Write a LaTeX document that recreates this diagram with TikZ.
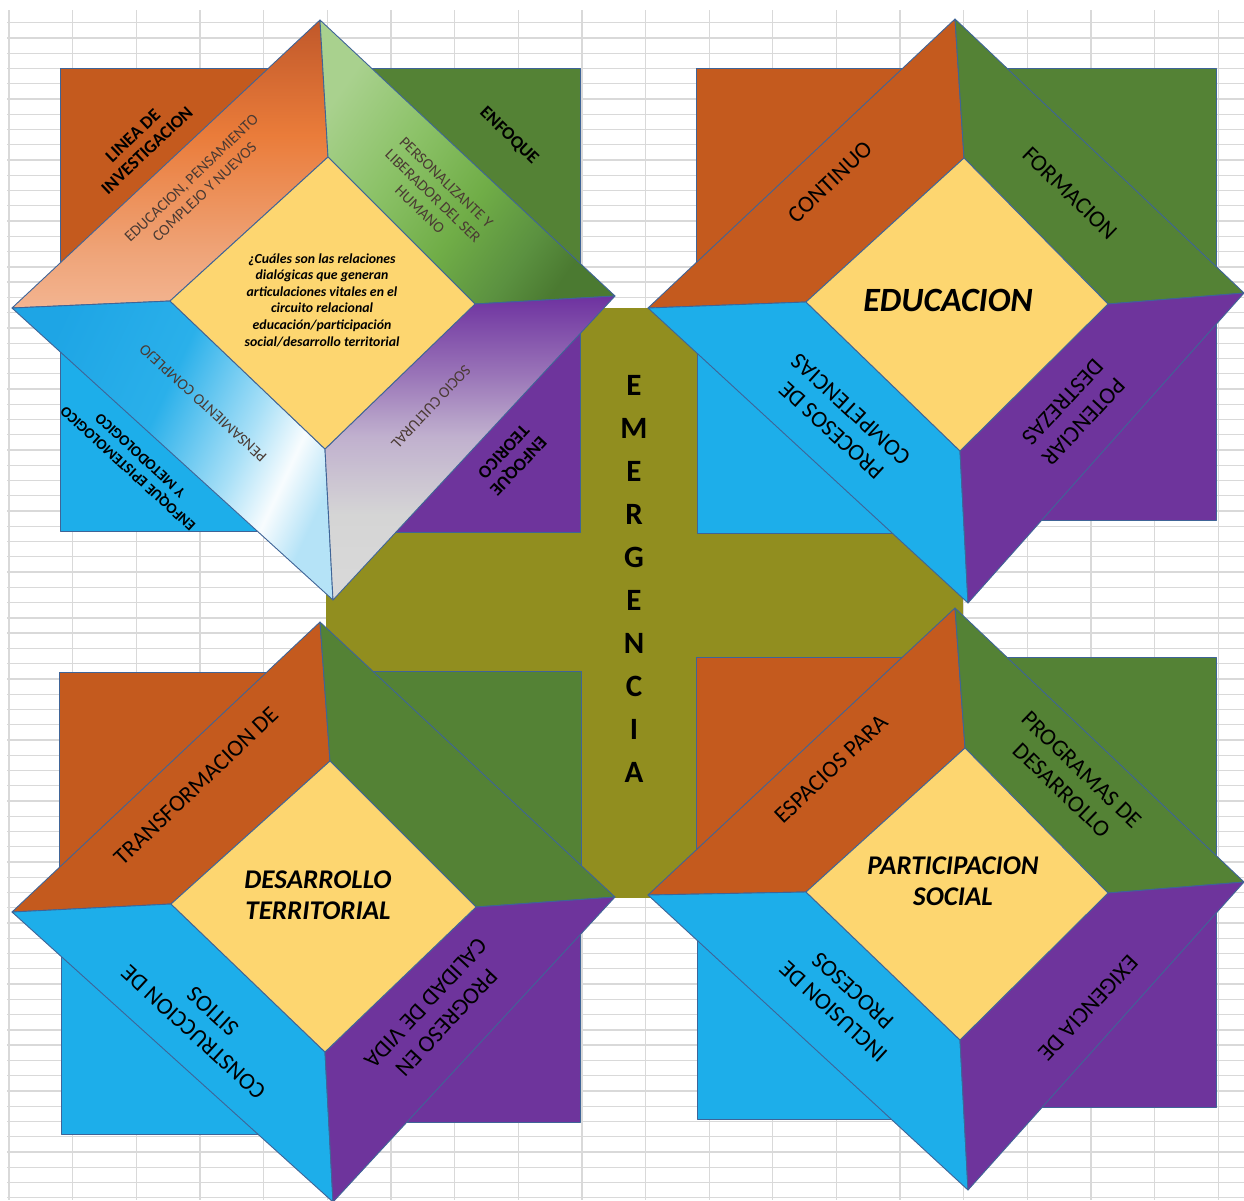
\documentclass[tikz,border=0pt]{standalone}
\usepackage{fontspec}
\setmainfont{Carlito}
\definecolor{gridc}{HTML}{D9D9D9}
\definecolor{orC}{HTML}{C45A1E}
\definecolor{grC}{HTML}{548235}
\definecolor{blC}{HTML}{1DAEEA}
\definecolor{puC}{HTML}{6E349C}
\definecolor{yeC}{HTML}{FDD670}
\definecolor{olC}{HTML}{918E1F}
\definecolor{edgeC}{HTML}{3F6497}
\definecolor{txD}{HTML}{4A3A33}
% gradient stops
\definecolor{orA}{HTML}{F3B490}\definecolor{orB}{HTML}{EFA57A}\definecolor{orCc}{HTML}{EA7C3A}\definecolor{orD}{HTML}{C0582A}
\definecolor{grA}{HTML}{A9D18E}\definecolor{grB}{HTML}{8CC268}\definecolor{grCc}{HTML}{70AD47}\definecolor{grD}{HTML}{5B9140}\definecolor{grE}{HTML}{4B7A31}
\definecolor{blA}{HTML}{1EA5E5}\definecolor{blB}{HTML}{2AB0EA}\definecolor{blCc}{HTML}{A9E0F7}\definecolor{blD}{HTML}{F8FCFE}\definecolor{blE}{HTML}{B5E3F7}
\definecolor{puA}{HTML}{6E32A0}\definecolor{puB}{HTML}{9A75B8}\definecolor{puCc}{HTML}{C0B0CE}\definecolor{puD}{HTML}{D5D5D5}\definecolor{puE}{HTML}{D9D9D9}
\pgfdeclareverticalshading{orflap}{100bp}{color(0bp)=(orA); color(25bp)=(orA); color(34bp)=(orB); color(55bp)=(orCc); color(75bp)=(orD); color(100bp)=(orD)}
\pgfdeclarehorizontalshading{grflap}{100bp}{color(0bp)=(grA); color(25bp)=(grA); color(40bp)=(grB); color(55bp)=(grCc); color(67bp)=(grD); color(75bp)=(grE); color(100bp)=(grE)}
\pgfdeclarehorizontalshading{blflap}{100bp}{color(0bp)=(blA); color(25bp)=(blA); color(45bp)=(blB); color(60bp)=(blCc); color(68bp)=(blD); color(75bp)=(blE); color(100bp)=(blE)}
\pgfdeclareverticalshading{puflap}{100bp}{color(0bp)=(puE); color(25bp)=(puE); color(39bp)=(puD); color(52bp)=(puCc); color(62bp)=(puB); color(75bp)=(puA); color(100bp)=(puA)}
\newcommand{\flaps}[5]{%
  \path[flap,#2] (#1OL) -- (#1OT) -- (#1IT) -- (#1IL) -- cycle;
  \path[flap,#3] (#1OT) -- (#1OR) -- (#1IR) -- (#1IT) -- cycle;
  \path[flap,#4] (#1OL) -- (#1IL) -- (#1IB) -- (#1OB) -- cycle;
  \path[flap,#5] (#1IR) -- (#1OR) -- (#1OB) -- (#1IB) -- cycle;
  \path[flap,fill=yeC] (#1IT) -- (#1IR) -- (#1IB) -- (#1IL) -- cycle;}
\newcommand{\rects}[6]{% prefix, center, orange corner, green corner, blue corner, purple corner
  \path[flap,fill=orC] #3 rectangle #2;
  \path[flap,fill=grC] #4 rectangle #2;
  \path[flap,fill=blC] #5 rectangle #2;
  \path[flap,fill=puC] #6 rectangle #2;}
\begin{document}
\begin{tikzpicture}[x=1pt,y=-1pt,
  grid/.style={draw=gridc,line width=1.3pt},
  flap/.style={draw=edgeC,line width=0.9pt,line join=round},
  lab/.style={inner sep=0pt,align=center,text=black},
  small/.style={font=\fontsize{15.5}{19}\selectfont},
  smallb/.style={font=\fontsize{18}{20.5}\selectfont\bfseries},
  big/.style={font=\fontsize{23.5}{28.5}\selectfont},
  title/.style={font=\fontsize{27}{30.5}\selectfont\bfseries\itshape},
  ang1/.style={rotate=43.5},
  ang2/.style={rotate=-44},
  ang3/.style={rotate=137.5},
  ang4/.style={rotate=-133}]
\useasboundingbox (0,0) rectangle (1244,1200);
\fill[white] (0,0) rectangle (1244,1200);
\foreach \k in {0,...,19} \draw[grid] ({9+63.65*\k},10) -- ({9+63.65*\k},1200);
\foreach \k in {0,...,77} \draw[grid] (7,{22.7+15.26*\k}) -- (1244,{22.7+15.26*\k});
\fill[olC] (326,308) rectangle (963,898);
% ---------- module coordinates
\coordinate (aOT) at (320,20);  \coordinate (aOL) at (12,308);  \coordinate (aOR) at (615,296);  \coordinate (aOB) at (333,600);
\coordinate (aIT) at (328,157); \coordinate (aIL) at (170,301); \coordinate (aIR) at (475,304); \coordinate (aIB) at (325,449);
\coordinate (bOT) at (955,19);  \coordinate (bOL) at (648,308); \coordinate (bOR) at (1244,293); \coordinate (bOB) at (968,603);
\coordinate (bIT) at (964,158); \coordinate (bIL) at (806,302); \coordinate (bIR) at (1108,304); \coordinate (bIB) at (960,451);
\coordinate (cOT) at (320,622); \coordinate (cOL) at (12,912);  \coordinate (cOR) at (615,897);  \coordinate (cOB) at (333,1202);
\coordinate (cIT) at (330,761); \coordinate (cIL) at (171,904); \coordinate (cIR) at (476,907); \coordinate (cIB) at (325,1052);
\coordinate (dOT) at (955,608); \coordinate (dOL) at (648,895); \coordinate (dOR) at (1244,882); \coordinate (dOB) at (968,1190);
\coordinate (dIT) at (965,748); \coordinate (dIL) at (806,892); \coordinate (dIR) at (1108,893); \coordinate (dIB) at (960,1040);
% ---------- background rectangles
\rects{a}{(322,303)}{(60,68)}{(580,68)}{(60,531)}{(580,532)}
\rects{b}{(957,303)}{(696,68)}{(1216,68)}{(697,533)}{(1216,520)}
\rects{c}{(323,906)}{(59,672)}{(581,671)}{(61,1134)}{(580,1122)}
\rects{d}{(957,892)}{(696,657)}{(1216,657)}{(697,1119)}{(1216,1107)}
% ---------- stars
\flaps{a}{shading=orflap}{shading=grflap,shading angle=-35}{shading=blflap,shading angle=-25}{shading=puflap}
\flaps{b}{fill=orC}{fill=grC}{fill=blC}{fill=puC}
\flaps{c}{fill=orC}{fill=grC}{fill=blC}{fill=puC}
\flaps{d}{fill=orC}{fill=grC}{fill=blC}{fill=puC}
% ---------- texts, module a
\node[lab,smallb,ang1] (a1) at (140,143) {LINEA DE\\INVESTIGACION};
\node[lab,small,ang1,text=txD] (a2) at (198,185) {EDUCACION, PENSAMIENTO\\COMPLEJO Y NUEVOS};
\node[lab,smallb,ang2] (a3) at (509,136) {ENFOQUE};
\node[lab,small,ang2,text=txD] (a4) at (433,196) {PERSONALIZANTE Y\\LIBERADOR DEL SER\\HUMANO};
\node[lab,font=\fontsize{13.8}{16.6}\selectfont\bfseries\itshape] (a5) at (322,300) {¿Cuáles son las relaciones\\dialógicas que generan\\articulaciones vitales en el\\circuito relacional\\educación/participación\\social/desarrollo territorial};
\node[lab,small,ang3,text=txD] (a6) at (203,403) {PENSAMIENTO COMPLEJO};
\node[lab,ang3,font=\fontsize{15}{18}\selectfont\bfseries] (a7) at (134,462) {ENFOQUE EPISTEMOLOGICO\\Y METODOLOGICO};
\node[lab,small,ang4,text=txD] (a8) at (431,407) {SOCIO CULTURAL};
\node[lab,smallb,ang4] (a9) at (511,459) {ENFOQUE\\TEORICO};
% ---------- module b
\node[lab,big,ang1] (b1) at (830,182) {CONTINUO};
\node[lab,big,ang2] (b2) at (1070,193) {FORMACION};
\node[lab,font=\fontsize{34}{40}\selectfont\bfseries\itshape] (b3) at (948,300) {EDUCACION};
\node[lab,big,ang3] (b4) at (841,420) {PROCESOS DE\\COMPETENCIAS};
\node[lab,big,ang4] (b5) at (1073,412) {POTENCIAR\\DESTREZAS};
% ---------- module c
\node[lab,big,ang1] (c1) at (196,786) {TRANSFORMACION DE};
\node[lab,title] (c2) at (318,895) {DESARROLLO\\TERRITORIAL};
\node[lab,big,ang3] (c3) at (203,1022) {CONSTRUCCION DE\\SITIOS};
\node[lab,big,ang4] (c4) at (436,1013) {PROGRESO EN\\CALIDAD DE VIDA};
% ---------- module d
\node[lab,big,ang1] (d1) at (831,769) {ESPACIOS PARA};
\node[lab,big,ang2] (d2) at (1072,780) {PROGRAMAS DE\\DESARROLLO};
\node[lab,title] (d3) at (953,881) {PARTICIPACION\\SOCIAL};
\node[lab,big,ang3] (d4) at (843,1001) {INCLUSION DE\\PROCESOS};
\node[lab,big,ang4] (d5) at (1088,1008) {EXIGENCIA DE};
% ---------- EMERGENCIA
\foreach \l [count=\i] in {E,M,E,R,G,E,N,C,I,A}
  \node[lab,font=\fontsize{31}{31}\selectfont\bfseries] (e\i) at (634,{385+43.1*(\i-1)}) {\l};
\end{tikzpicture}
\end{document}
